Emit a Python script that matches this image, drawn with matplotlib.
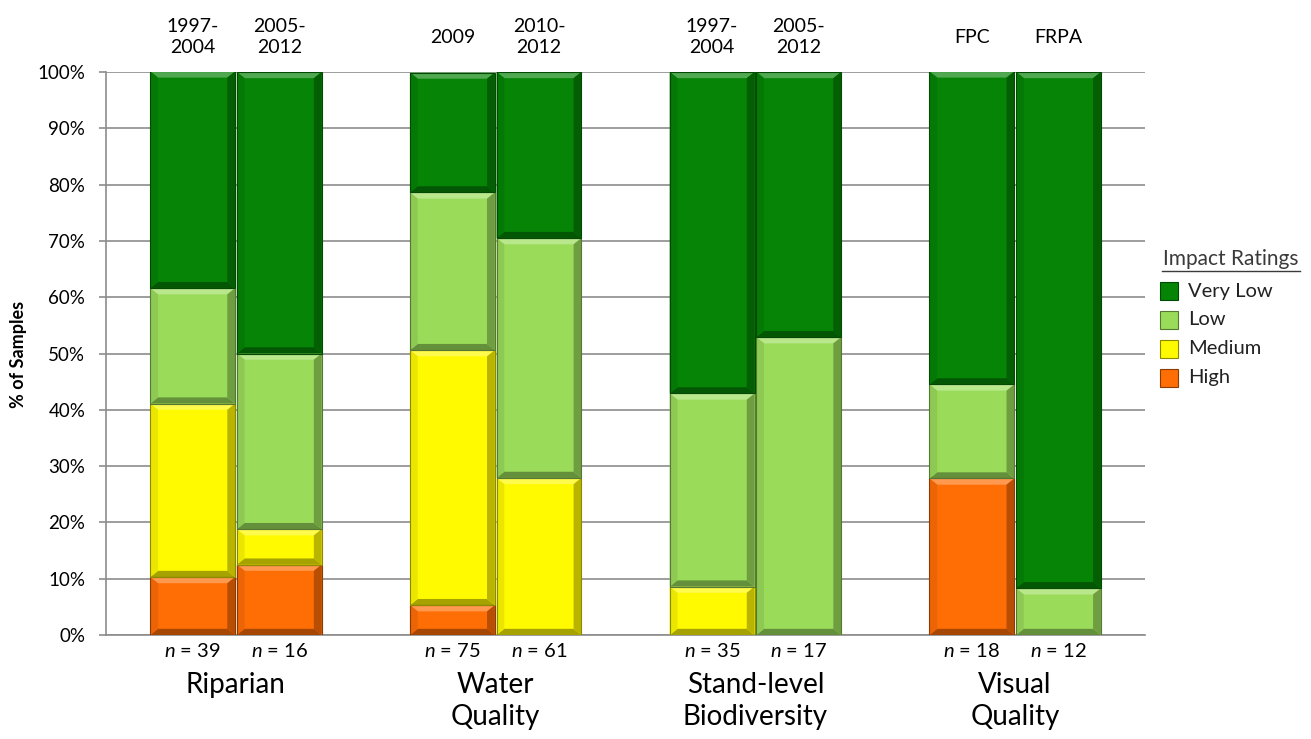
import matplotlib
matplotlib.use("Agg")
import matplotlib.pyplot as plt
import matplotlib.colors as mcolors
from matplotlib.patches import Polygon, Rectangle
from matplotlib.lines import Line2D
from matplotlib.transforms import blended_transform_factory
import numpy as np

plt.rcParams['font.family'] = ['Lato', 'DejaVu Sans']
plt.rcParams['mathtext.fontset'] = 'custom'
plt.rcParams['mathtext.it'] = 'Lato:italic'
plt.rcParams['mathtext.rm'] = 'Lato'

# Data (% of samples per impact rating)
groups = ['Riparian', 'Water\nQuality', 'Stand-level\nBiodiversity', 'Visual\nQuality']
periods = ['1997-\n2004', '2005-\n2012', '2009', '2010-\n2012',
           '1997-\n2004', '2005-\n2012', 'FPC', 'FRPA']
n_samples = [39, 16, 75, 61, 35, 17, 18, 12]
ratings = ['Very Low', 'Low', 'Medium', 'High']
high = [10.3, 12.5, 5.3, 0.0, 0.0, 0.0, 27.8, 0.0]
medium = [30.8, 6.3, 45.3, 27.9, 8.6, 0.0, 0.0, 0.0]
low = [20.5, 31.2, 28.0, 42.6, 34.3, 52.9, 16.7, 8.3]
very_low = [38.5, 50.0, 21.3, 29.5, 57.1, 47.1, 55.6, 91.7]

COLORS = {
    'Very Low': '#058405',
    'Low': '#9adc5a',
    'Medium': '#fffa00',
    'High': '#ff6d05',
}


def shade(color, f):
    """f>0 lightens towards white, f<0 darkens towards black"""
    c = np.array(mcolors.to_rgb(color))
    if f > 0:
        return tuple(c + (1 - c) * f)
    return tuple(c * (1 + f))


def add_bevel(ax, rect, color, bx=0.09, by=1.1):
    x0, y0 = rect.get_x(), rect.get_y()
    x1, y1 = x0 + rect.get_width(), y0 + rect.get_height()
    if y1 - y0 <= 0:
        return
    by = min(by, (y1 - y0) / 2.5)
    bx = min(bx, (x1 - x0) / 4)
    pieces = [
        ([(x0, y1), (x1, y1), (x1 - bx, y1 - by), (x0 + bx, y1 - by)], 0.3),
        ([(x0, y0), (x1, y0), (x1 - bx, y0 + by), (x0 + bx, y0 + by)], -0.35),
        ([(x1, y0), (x1, y1), (x1 - bx, y1 - by), (x1 - bx, y0 + by)], -0.28),
        ([(x0, y0), (x0, y1), (x0 + bx, y1 - by), (x0 + bx, y0 + by)], -0.08),
    ]
    for pts, f in pieces:
        ax.add_patch(Polygon(pts, closed=True, facecolor=shade(color, f),
                             edgecolor='none', zorder=3))
    ax.add_patch(Rectangle((x0, y0), x1 - x0, y1 - y0, fill=False,
                           edgecolor=shade(color, -0.45), linewidth=0.8, zorder=4))


fig = plt.figure(figsize=(13.11, 7.39), dpi=100)
ax = fig.add_axes([0.0809, 0.1407, 0.7925, 0.7619])

# bar positions: 4 groups of 2 bars
x = []
for g in range(len(groups)):
    x += [3 * g - 0.5, 3 * g + 0.5]
x = np.array(x)

bottom = np.zeros(len(x))
for name, vals in [('High', high), ('Medium', medium), ('Low', low), ('Very Low', very_low)]:
    bars = ax.bar(x, vals, width=0.98, bottom=bottom, color=COLORS[name],
                  linewidth=0, zorder=2)
    for b in bars:
        add_bevel(ax, b, COLORS[name])
    bottom += np.array(vals)

ax.set_xlim(-1.5, 10.5)
ax.set_ylim(0, 100)
ax.set_yticks(np.arange(0, 101, 10))
ax.set_yticklabels([f'{v}%' for v in range(0, 101, 10)], fontsize=13.5)
ax.set_xticks([])
ax.grid(axis='y', color='#8c8c8c', linewidth=1.2, zorder=0)
ax.set_axisbelow(True)
for s in ['top', 'right']:
    ax.spines[s].set_visible(False)
for s in ['left', 'bottom']:
    ax.spines[s].set_color('#8c8c8c')
    ax.spines[s].set_linewidth(1.2)
ax.tick_params(axis='y', length=5, color='#8c8c8c', width=1.2, pad=10)

trans = blended_transform_factory(ax.transData, ax.transAxes)
for xi, p, n in zip(x, periods, n_samples):
    ax.text(xi, 1.062, p, transform=trans, ha='center', va='center',
            fontsize=14, linespacing=1.3)
    ax.text(xi, -0.028, f'$n$ = {n}', transform=trans, ha='center', va='center',
            fontsize=14.5)
for g, name in enumerate(groups):
    ax.text(3 * g, -0.066, name, transform=trans, ha='center', va='top',
            fontsize=20, linespacing=1.3)

fig.text(19 / 1311, 0.521, '% of Samples', rotation=90, ha='center', va='center',
         fontsize=13, fontweight='bold')

# Legend (drawn manually to get the underlined title)
W, H = 1311, 739
fig.text(1231 / W, 1 - 259 / H, 'Impact Ratings', ha='center', va='center',
         fontsize=15, color='#3a3a3a')
fig.add_artist(Line2D([1162 / W, 1300 / W], [1 - 271 / H, 1 - 271 / H],
                      color='#3a3a3a', linewidth=1))
for i, name in enumerate(ratings):
    yc = 291 + 29 * i
    sw = Rectangle((1160 / W, 1 - (yc + 9) / H), 18 / W, 18 / H,
                   facecolor=COLORS[name], edgecolor=shade(COLORS[name], -0.45),
                   linewidth=0.8, transform=fig.transFigure)
    fig.add_artist(sw)
    fig.text(1188 / W, 1 - yc / H, name, ha='left', va='center', fontsize=14.5,
             color='#222222')

fig.savefig('out.png', dpi=100)
